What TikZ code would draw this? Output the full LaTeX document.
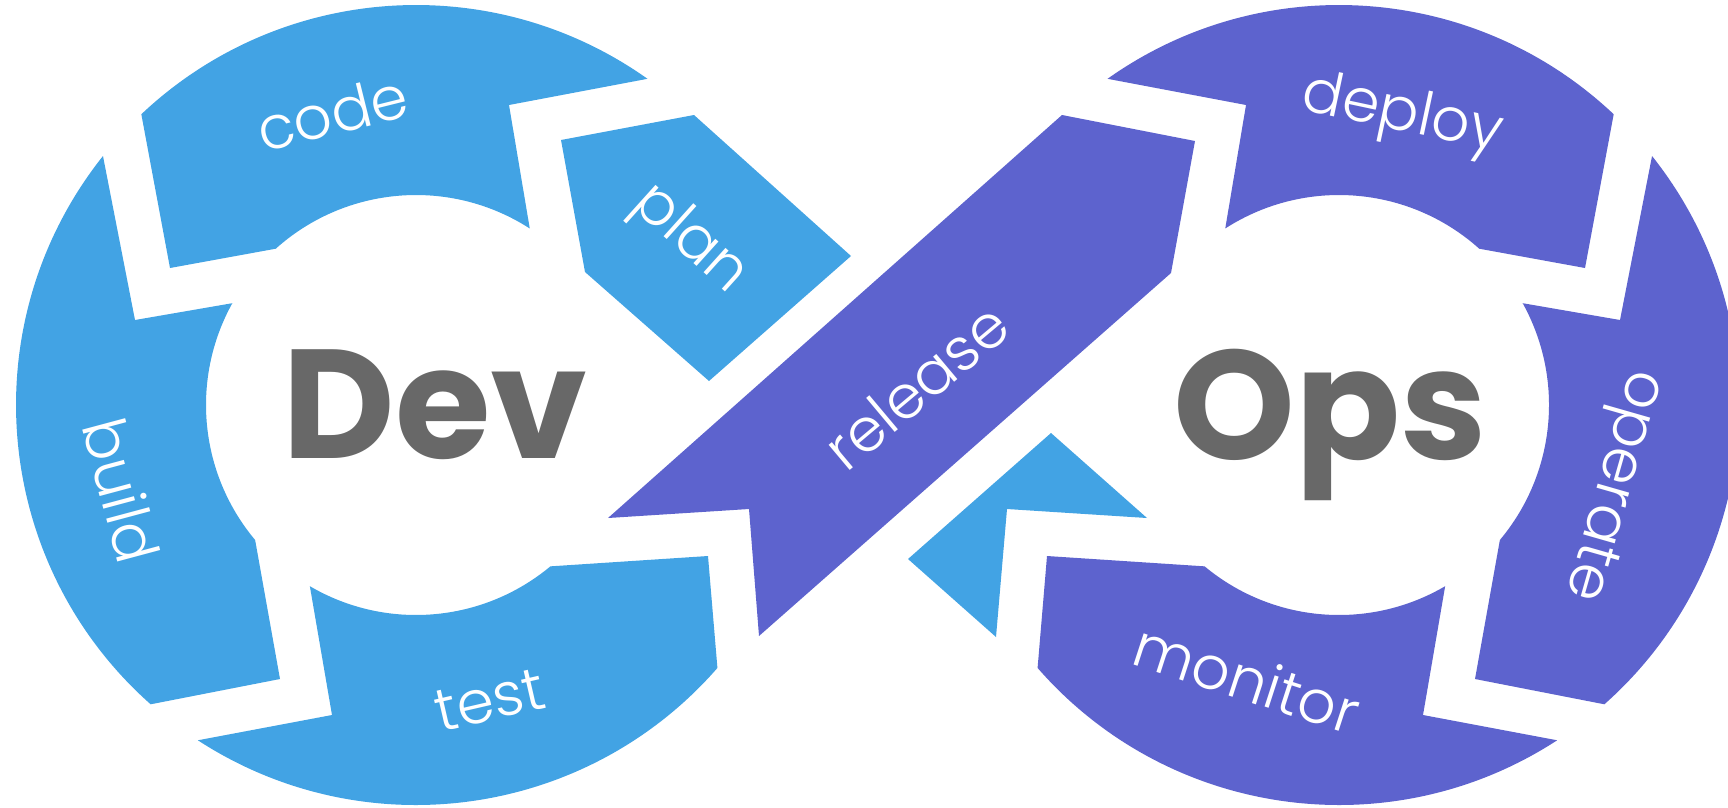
\documentclass[tikz,border=0pt]{standalone}
\usepackage{fontspec}
\setmainfont{Poppins}
\newfontfamily\labelfont{Poppins Light}
\usetikzlibrary{calc}
\definecolor{devblue}{RGB}{66,163,228}
\definecolor{opspurple}{RGB}{93,99,206}
\definecolor{titlegray}{RGB}{104,104,104}
\begin{document}
\begin{tikzpicture}[x=1pt,y=-1pt,
  lbl/.style={text=white,inner sep=0pt,font=\labelfont\fontsize{60}{60}\selectfont},
  ttl/.style={text=titlegray,inner sep=0pt,anchor=base,font=\fontsize{155}{155}\selectfont\bfseries}]
\useasboundingbox (0,0) rectangle (1728,807);
\clip (0,0) rectangle (1728,807);
\coordinate (C) at (416,405);
\coordinate (D) at (1339,405);
% ---- Dev ring (blue)
\fill[devblue] ($(C)+(-133.37:400)$) arc[start angle=-133.37,end angle=-54.64,radius=400]
  -- (509,105) -- ($(C)+(-57.2:210)$) arc[start angle=-57.2,end angle=-131.9,radius=210]
  -- (170,268) -- cycle;
\fill[devblue] ($(C)+(218.5:400)$) arc[start angle=218.5,end angle=131.56,radius=400]
  -- (280,679) -- ($(C)+(140:210)$) arc[start angle=140,end angle=209,radius=210]
  -- (135,320) -- cycle;
\fill[devblue] ($(C)+(123.05:400)$) arc[start angle=123.05,end angle=41.1,radius=400]
  -- (708,556) -- ($(C)+(50.2:210)$) arc[start angle=50.2,end angle=120.36,radius=210]
  -- (332,715) -- cycle;
% ---- Ops ring (purple)
\fill[opspurple] ($(D)+(313.37:400)$) arc[start angle=313.37,end angle=234.64,radius=400]
  -- (1246,105) -- ($(D)+(237.2:210)$) arc[start angle=237.2,end angle=311.9,radius=210]
  -- (1585,268) -- cycle;
\fill[opspurple] ($(D)+(-38.5:400)$) arc[start angle=-38.5,end angle=48.44,radius=400]
  -- (1475,679) -- ($(D)+(40:210)$) arc[start angle=40,end angle=-29,radius=210]
  -- (1620,320) -- cycle;
\fill[opspurple] ($(D)+(56.95:400)$) arc[start angle=56.95,end angle=138.9,radius=400]
  -- (1047,556) -- ($(D)+(129.8:210)$) arc[start angle=129.8,end angle=59.64,radius=210]
  -- (1423,715) -- cycle;
% ---- crossing ribbons
\fill[devblue] (561,140) -- (694,115) -- (851,256) -- (709,381) -- (585,272) -- cycle;
\fill[devblue] (908,559) -- (1051,433) -- (1147,518) -- (1007,509) -- (996,637) -- cycle;
\fill[opspurple] (608,518) -- (749,509) -- (759,636) -- (1171,273) -- (1195,141) -- (1062,115) -- cycle;
% ---- labels
\node[lbl,rotate=14] (code) at (332,113) {code};
\node[lbl,rotate=-42] (plan) at (689,240) {plan};
\node[lbl,rotate=-75] (build) at (122,490) {build};
\node[lbl,rotate=13] (test) at (490,700) {test};
\node[lbl,rotate=40] (release) at (916,386) {release};
\node[lbl,rotate=-12] (deploy) at (1402,116) {deploy};
\node[lbl,rotate=-106] (operate) at (1611,485) {operate};
\node[lbl,rotate=-18] (monitor) at (1247,678) {monitor};
\node[ttl] (dev) at (435,458) {Dev};
\node[ttl] (ops) at (1330,459) {Ops};
\end{tikzpicture}
\end{document}
